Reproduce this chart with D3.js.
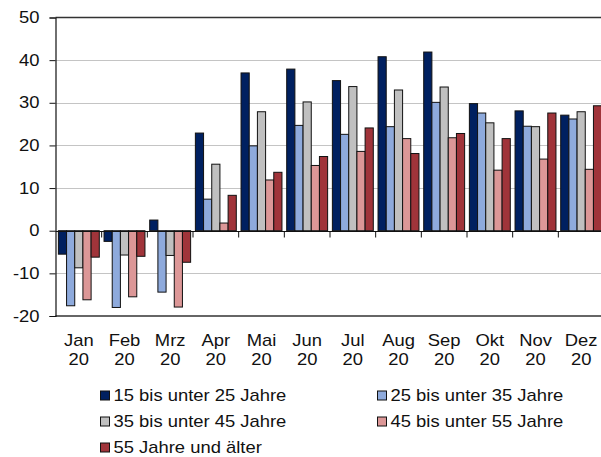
<!DOCTYPE html>
<html>
<head>
<meta charset="utf-8">
<script src="https://cdn.jsdelivr.net/npm/d3@7"></script>
<style>
  body { margin: 0; background: #fff; }
  svg { display: block; font-family: "Liberation Sans", Arial, sans-serif; }
</style>
</head>
<body>
<svg id="chart"></svg>
<script>
// categories
const months = ["Jan", "Feb", "Mrz", "Apr", "Mai", "Jun", "Jul", "Aug", "Sep", "Okt", "Nov", "Dez"];
const yearLabel = "20";

// series (Veränderung in %)
const seriesNames = [
  "15 bis unter 25 Jahre",
  "25 bis unter 35 Jahre",
  "35 bis unter 45 Jahre",
  "45 bis unter 55 Jahre",
  "55 Jahre und älter"
];
const age15 = [-5.5, -2.5, 2.5, 22.9, 37.0, 37.9, 35.2, 40.8, 41.9, 29.8, 28.1, 27.1];
const age25 = [-17.6, -18.0, -14.4, 7.4, 19.9, 24.7, 22.6, 24.4, 30.1, 27.6, 24.5, 26.2];
const age35 = [-8.7, -5.7, -5.8, 15.6, 27.9, 30.2, 33.8, 33.0, 33.7, 25.3, 24.4, 27.9];
const age45 = [-16.2, -15.5, -17.9, 1.8, 11.9, 15.3, 18.6, 21.6, 21.8, 14.2, 16.8, 14.4];
const age55 = [-6.2, -6.0, -7.4, 8.3, 13.7, 17.4, 24.1, 18.1, 22.8, 21.6, 27.6, 29.3];

// y axis ticks
const yTicks = [-20, -10, 0, 10, 20, 30, 40, 50];

const seriesValues = [age15, age25, age35, age45, age55];
const colors = ["#002060", "#8eaadc", "#c0c0c0", "#dc9797", "#a0343a"];

class GroupedBars {
  constructor(_config) {
    this.config = {
      parentElement: _config.parentElement,
      containerWidth: _config.containerWidth || 601,
      containerHeight: _config.containerHeight || 457,
    };
    this.sx = 1.15; // text in the picture is a bit wider than plain Arial
    this.initVis();
  }

  initVis() {
    let vis = this;

    vis.svg = d3.select(vis.config.parentElement)
      .attr('width', vis.config.containerWidth)
      .attr('height', vis.config.containerHeight);

    vis.x = d3.scaleBand()
      .domain(months)
      .range([56, 604])
      .padding(0);

    vis.xInner = d3.scaleBand()
      .domain(d3.range(seriesNames.length))
      .range([0, vis.x.bandwidth()])
      .paddingInner(0)
      .paddingOuter(0.29);

    vis.y = d3.scaleLinear()
      .domain([-20, 50])
      .range([316, 17.5]);

    vis.grid = vis.svg.append('g');
    vis.chart = vis.svg.append('g');
    vis.axes = vis.svg.append('g');
    vis.legend = vis.svg.append('g');
  }

  // place a text, stretched horizontally like the source
  label(g, x, y, txt, anchor) {
    let vis = this;
    return g.append('text')
      .attr('transform', `translate(${x},${y}) scale(${vis.sx},1)`)
      .attr('text-anchor', anchor || 'start')
      .attr('font-size', 16)
      .attr('fill', '#111')
      .text(txt);
  }

  update() {
    let vis = this;
    const x0 = 55.5, x1 = 604;

    // gridlines
    vis.grid.selectAll('line')
      .data(yTicks.filter(d => d != 0 && d != 50 && d != -20))
      .join('line')
      .attr('x1', x0).attr('x2', x1)
      .attr('y1', d => Math.round(vis.y(d)) + 0.5)
      .attr('y2', d => Math.round(vis.y(d)) + 0.5)
      .attr('stroke', '#c4c4c4')
      .attr('stroke-width', 1);

    // frame top / bottom
    vis.grid.selectAll('.frame')
      .data([50, -20])
      .join('line')
      .attr('class', 'frame')
      .attr('x1', x0).attr('x2', x1)
      .attr('y1', d => vis.y(d))
      .attr('y2', d => vis.y(d))
      .attr('stroke', '#333')
      .attr('stroke-width', 1.5);

    // bars
    const flat = [];
    seriesValues.forEach((vals, s) => {
      vals.forEach((v, i) => flat.push({s: s, m: months[i], v: v}));
    });

    vis.chart.selectAll('rect')
      .data(flat)
      .join('rect')
      .attr('x', d => vis.x(d.m) + vis.xInner(d.s))
      .attr('width', vis.xInner.bandwidth())
      .attr('y', d => Math.min(vis.y(d.v), vis.y(0)))
      .attr('height', d => Math.abs(vis.y(d.v) - vis.y(0)))
      .attr('fill', d => colors[d.s])
      .attr('stroke', '#111')
      .attr('stroke-width', 1);

    // zero line with category ticks
    const zy = Math.round(vis.y(0)) + 0.5;
    vis.axes.append('line')
      .attr('x1', x0).attr('x2', x1)
      .attr('y1', zy).attr('y2', zy)
      .attr('stroke', '#111');
    vis.axes.selectAll('.ctick')
      .data(months.slice(1))
      .join('line')
      .attr('class', 'ctick')
      .attr('x1', d => vis.x(d)).attr('x2', d => vis.x(d))
      .attr('y1', zy).attr('y2', zy + 6)
      .attr('stroke', '#111');

    // y axis (plain hyphen for negatives, like the source)
    const yAxis = d3.axisLeft(vis.y)
      .tickValues(yTicks)
      .tickSize(6)
      .tickPadding(10)
      .tickFormat(d => String(d));

    const ya = vis.axes.append('g')
      .attr('transform', `translate(${x0},0)`)
      .call(yAxis);
    ya.select('.domain').attr('stroke', '#111').attr('stroke-width', 1.2);
    ya.selectAll('.tick line').attr('stroke', '#111');
    ya.selectAll('.tick text')
      .attr('font-size', 16)
      .attr('font-family', '"Liberation Sans", Arial, sans-serif')
      .attr('fill', '#111')
      .attr('x', -16 / vis.sx)
      .attr('transform', `scale(${vis.sx},1)`);

    // month labels
    months.forEach(m => {
      const cx = vis.x(m) + vis.x.bandwidth() / 2;
      vis.label(vis.axes, cx, 345.5, m, 'middle');
      vis.label(vis.axes, cx, 365, yearLabel, 'middle');
    });

    vis.render();
  }

  render() {
    let vis = this;
    const colX = [100.5, 377.5];
    const rowY = [401, 427, 453];

    seriesNames.forEach((name, i) => {
      const lx = colX[i % 2];
      const ly = rowY[Math.floor(i / 2)];
      vis.legend.append('rect')
        .attr('x', lx).attr('y', ly - 10)
        .attr('width', 9).attr('height', 9)
        .attr('fill', colors[i])
        .attr('stroke', '#111')
        .attr('stroke-width', 1);
      vis.label(vis.legend, lx + 13, ly, name);
    });
  }
}

const chart = new GroupedBars({
  parentElement: '#chart',
  containerWidth: 601,
  containerHeight: 457
});
chart.update();
</script>
</body>
</html>
